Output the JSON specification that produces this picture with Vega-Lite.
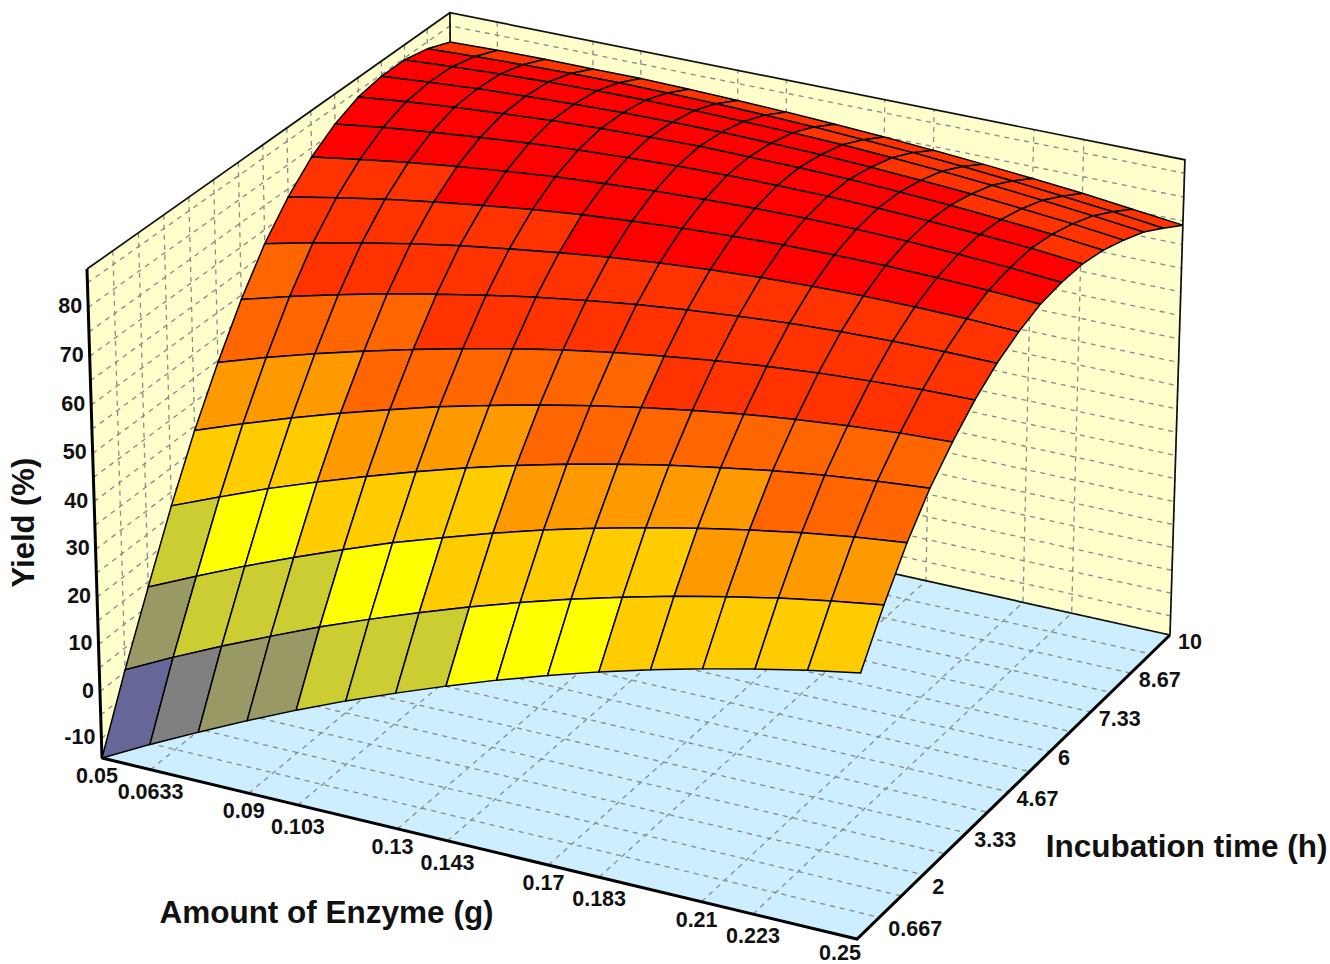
{"$schema":"https://vega.github.io/schema/vega-lite/v6.json","width":1330,"height":964,"padding":0,"autosize":{"type":"none"},"background":"white","config":{"view":{"stroke":null}},
"datasets":{
"frame":[
{"part":"floor","k":0,"enzyme":0.05,"time":0,"yield":-14.2},{"part":"floor","k":1,"enzyme":0.25,"time":0,"yield":-14.2},{"part":"floor","k":2,"enzyme":0.25,"time":10,"yield":-14.2},{"part":"floor","k":3,"enzyme":0.05,"time":10,"yield":-14.2},
{"part":"left","k":0,"enzyme":0.05,"time":0,"yield":-14.2},{"part":"left","k":1,"enzyme":0.05,"time":10,"yield":-14.2},{"part":"left","k":2,"enzyme":0.05,"time":10,"yield":87.8},{"part":"left","k":3,"enzyme":0.05,"time":0,"yield":87.8},
{"part":"back","k":0,"enzyme":0.05,"time":10,"yield":-14.2},{"part":"back","k":1,"enzyme":0.25,"time":10,"yield":-14.2},{"part":"back","k":2,"enzyme":0.25,"time":10,"yield":87.8},{"part":"back","k":3,"enzyme":0.05,"time":10,"yield":87.8},
{"part":"heavyFront","k":0,"enzyme":0.05,"time":0,"yield":-14.2},{"part":"heavyFront","k":1,"enzyme":0.25,"time":0,"yield":-14.2},{"part":"heavyFront","k":2,"enzyme":0.25,"time":10,"yield":-14.2},
{"part":"heavyAxis","k":0,"enzyme":0.05,"time":0,"yield":-14.2},{"part":"heavyAxis","k":1,"enzyme":0.05,"time":0,"yield":87.8},
{"part":"edgeTop","k":0,"enzyme":0.05,"time":0,"yield":87.8},{"part":"edgeTop","k":1,"enzyme":0.05,"time":10,"yield":87.8},{"part":"edgeTop","k":2,"enzyme":0.25,"time":10,"yield":87.8},{"part":"edgeTop","k":3,"enzyme":0.25,"time":10,"yield":-14.2},
{"part":"edgeBack","k":0,"enzyme":0.05,"time":10,"yield":87.8},{"part":"edgeBack","k":1,"enzyme":0.05,"time":10,"yield":-14.2},{"part":"edgeBack","k":2,"enzyme":0.25,"time":10,"yield":-14.2}
],
"axes":[
{"axis":"enzyme","value":0.05,"label":"0.05"},{"axis":"enzyme","value":0.0633,"label":"0.0633"},{"axis":"enzyme","value":0.09,"label":"0.09"},{"axis":"enzyme","value":0.1033,"label":"0.103"},{"axis":"enzyme","value":0.13,"label":"0.13","title":"Amount of Enzyme (g)"},{"axis":"enzyme","value":0.1433,"label":"0.143"},{"axis":"enzyme","value":0.17,"label":"0.17"},{"axis":"enzyme","value":0.1833,"label":"0.183"},{"axis":"enzyme","value":0.21,"label":"0.21"},{"axis":"enzyme","value":0.2233,"label":"0.223"},{"axis":"enzyme","value":0.25,"label":"0.25"},
{"axis":"time","value":0.667,"label":"0.667"},{"axis":"time","value":1.333},{"axis":"time","value":2,"label":"2"},{"axis":"time","value":2.667},{"axis":"time","value":3.333,"label":"3.33"},{"axis":"time","value":4},{"axis":"time","value":4.667,"label":"4.67","title":"Incubation time (h)"},{"axis":"time","value":5.333},{"axis":"time","value":6,"label":"6"},{"axis":"time","value":6.667},{"axis":"time","value":7.333,"label":"7.33"},{"axis":"time","value":8},{"axis":"time","value":8.667,"label":"8.67"},{"axis":"time","value":9.333},{"axis":"time","value":10,"label":"10"},
{"axis":"yield","value":-10,"label":"-10"},{"axis":"yield","value":-5},{"axis":"yield","value":0,"label":"0"},{"axis":"yield","value":5},{"axis":"yield","value":10,"label":"10"},{"axis":"yield","value":15},{"axis":"yield","value":20,"label":"20"},{"axis":"yield","value":25},{"axis":"yield","value":30,"label":"30"},{"axis":"yield","value":35},{"axis":"yield","value":40,"label":"40","title":"Yield (%)"},{"axis":"yield","value":45},{"axis":"yield","value":50,"label":"50"},{"axis":"yield","value":55},{"axis":"yield","value":60,"label":"60"},{"axis":"yield","value":65},{"axis":"yield","value":70,"label":"70"},{"axis":"yield","value":75},{"axis":"yield","value":80,"label":"80"},{"axis":"yield","value":85}
],
"grid":[
{"id":15,"yield":81.5},{"id":115,"yield":81.8},{"id":215,"yield":81.9},{"id":315,"yield":81.9},{"id":415,"yield":81.9},{"id":515,"yield":81.7},{"id":615,"yield":81.4},{"id":715,"yield":81},{"id":815,"yield":80.5},{"id":915,"yield":79.9},{"id":1015,"yield":79.2},{"id":1115,"yield":78.4},{"id":1215,"yield":77.5},{"id":1315,"yield":76.5},{"id":1415,"yield":75.3},{"id":1515,"yield":74.1},
{"id":14,"yield":83.5,"band":8},{"id":114,"yield":83.9,"band":8},{"id":214,"yield":84.2,"band":8},{"id":314,"yield":84.4,"band":8},{"id":414,"yield":84.5,"band":8},{"id":514,"yield":84.4,"band":8},{"id":614,"yield":84.2,"band":8},{"id":714,"yield":83.9,"band":8},{"id":814,"yield":83.5,"band":8},{"id":914,"yield":82.9,"band":8},{"id":1014,"yield":82.3,"band":8},{"id":1114,"yield":81.5,"band":8},{"id":1214,"yield":80.6,"band":8},{"id":1314,"yield":79.5,"band":8},{"id":1414,"yield":78.4,"band":8},{"id":1514,"yield":77.1},
{"id":13,"yield":84.6,"band":9},{"id":113,"yield":85.2,"band":9},{"id":213,"yield":85.7,"band":9},{"id":313,"yield":86.1,"band":9},{"id":413,"yield":86.3,"band":9},{"id":513,"yield":86.4,"band":9},{"id":613,"yield":86.3,"band":9},{"id":713,"yield":86.1,"band":9},{"id":813,"yield":85.8,"band":8},{"id":913,"yield":85.4,"band":8},{"id":1013,"yield":84.8,"band":8},{"id":1113,"yield":84.1,"band":8},{"id":1213,"yield":83.3,"band":8},{"id":1313,"yield":82.3,"band":8},{"id":1413,"yield":81.2,"band":8},{"id":1513,"yield":80},
{"id":12,"yield":84.6,"band":9},{"id":112,"yield":85.4,"band":9},{"id":212,"yield":86.1,"band":9},{"id":312,"yield":86.6,"band":9},{"id":412,"yield":87,"band":9},{"id":512,"yield":87.3,"band":9},{"id":612,"yield":87.4,"band":9},{"id":712,"yield":87.4,"band":9},{"id":812,"yield":87.2,"band":9},{"id":912,"yield":86.9,"band":9},{"id":1012,"yield":86.4,"band":8},{"id":1112,"yield":85.8,"band":8},{"id":1212,"yield":85.1,"band":8},{"id":1312,"yield":84.2,"band":8},{"id":1412,"yield":83.2,"band":8},{"id":1512,"yield":82},
{"id":11,"yield":83.7,"band":9},{"id":111,"yield":84.8,"band":9},{"id":211,"yield":85.7,"band":9},{"id":311,"yield":86.4,"band":9},{"id":411,"yield":87.1,"band":9},{"id":511,"yield":87.5,"band":9},{"id":611,"yield":87.8,"band":9},{"id":711,"yield":88,"band":9},{"id":811,"yield":87.9,"band":9},{"id":911,"yield":87.8,"band":9},{"id":1011,"yield":87.5,"band":9},{"id":1111,"yield":87,"band":9},{"id":1211,"yield":86.4,"band":8},{"id":1311,"yield":85.6,"band":8},{"id":1411,"yield":84.7,"band":8},{"id":1511,"yield":83.6},
{"id":10,"yield":81.5,"band":9},{"id":110,"yield":82.9,"band":9},{"id":210,"yield":84,"band":9},{"id":310,"yield":85,"band":9},{"id":410,"yield":85.9,"band":9},{"id":510,"yield":86.6,"band":9},{"id":610,"yield":87.1,"band":9},{"id":710,"yield":87.5,"band":9},{"id":810,"yield":87.7,"band":9},{"id":910,"yield":87.7,"band":9},{"id":1010,"yield":87.6,"band":9},{"id":1110,"yield":87.3,"band":9},{"id":1210,"yield":86.8,"band":9},{"id":1310,"yield":86.2,"band":9},{"id":1410,"yield":85.5,"band":8},{"id":1510,"yield":84.5},
{"id":9,"yield":78.1,"band":9},{"id":109,"yield":79.7,"band":9},{"id":209,"yield":81.2,"band":9},{"id":309,"yield":82.5,"band":9},{"id":409,"yield":83.6,"band":9},{"id":509,"yield":84.6,"band":9},{"id":609,"yield":85.3,"band":9},{"id":709,"yield":85.9,"band":9},{"id":809,"yield":86.3,"band":9},{"id":909,"yield":86.6,"band":9},{"id":1009,"yield":86.7,"band":9},{"id":1109,"yield":86.6,"band":9},{"id":1209,"yield":86.3,"band":9},{"id":1309,"yield":85.8,"band":9},{"id":1409,"yield":85.2,"band":9},{"id":1509,"yield":84.4},
{"id":8,"yield":73.3,"band":8},{"id":108,"yield":75.3,"band":8},{"id":208,"yield":77.1,"band":8},{"id":308,"yield":78.7,"band":9},{"id":408,"yield":80.1,"band":9},{"id":508,"yield":81.4,"band":9},{"id":608,"yield":82.5,"band":9},{"id":708,"yield":83.3,"band":9},{"id":808,"yield":84,"band":9},{"id":908,"yield":84.5,"band":9},{"id":1008,"yield":84.9,"band":9},{"id":1108,"yield":85,"band":9},{"id":1208,"yield":85,"band":9},{"id":1308,"yield":84.7,"band":9},{"id":1408,"yield":84.3,"band":9},{"id":1508,"yield":83.7},
{"id":7,"yield":67.1,"band":8},{"id":107,"yield":69.5,"band":8},{"id":207,"yield":71.6,"band":8},{"id":307,"yield":73.6,"band":8},{"id":407,"yield":75.4,"band":8},{"id":507,"yield":76.9,"band":8},{"id":607,"yield":78.3,"band":9},{"id":707,"yield":79.5,"band":9},{"id":807,"yield":80.5,"band":9},{"id":907,"yield":81.3,"band":9},{"id":1007,"yield":81.9,"band":9},{"id":1107,"yield":82.3,"band":9},{"id":1207,"yield":82.5,"band":9},{"id":1307,"yield":82.5,"band":9},{"id":1407,"yield":82.3,"band":8},{"id":1507,"yield":81.9},
{"id":6,"yield":59.1,"band":7},{"id":106,"yield":61.9,"band":8},{"id":206,"yield":64.5,"band":8},{"id":306,"yield":66.9,"band":8},{"id":406,"yield":69,"band":8},{"id":506,"yield":71,"band":8},{"id":606,"yield":72.8,"band":8},{"id":706,"yield":74.3,"band":8},{"id":806,"yield":75.7,"band":8},{"id":906,"yield":76.8,"band":8},{"id":1006,"yield":77.7,"band":8},{"id":1106,"yield":78.5,"band":8},{"id":1206,"yield":79,"band":8},{"id":1306,"yield":79.3,"band":8},{"id":1406,"yield":79.4,"band":8},{"id":1506,"yield":79.3},
{"id":5,"yield":49.6,"band":7},{"id":105,"yield":52.9,"band":7},{"id":205,"yield":55.9,"band":7},{"id":305,"yield":58.7,"band":7},{"id":405,"yield":61.3,"band":8},{"id":505,"yield":63.7,"band":8},{"id":605,"yield":65.9,"band":8},{"id":705,"yield":67.9,"band":8},{"id":805,"yield":69.6,"band":8},{"id":905,"yield":71.1,"band":8},{"id":1005,"yield":72.4,"band":8},{"id":1105,"yield":73.5,"band":8},{"id":1205,"yield":74.4,"band":8},{"id":1305,"yield":75,"band":8},{"id":1405,"yield":75.5,"band":8},{"id":1505,"yield":75.7},
{"id":4,"yield":39.1,"band":6},{"id":104,"yield":42.8,"band":6},{"id":204,"yield":46.3,"band":6},{"id":304,"yield":49.6,"band":7},{"id":404,"yield":52.6,"band":7},{"id":504,"yield":55.5,"band":7},{"id":604,"yield":58,"band":7},{"id":704,"yield":60.4,"band":7},{"id":804,"yield":62.5,"band":7},{"id":904,"yield":64.4,"band":8},{"id":1004,"yield":66.1,"band":8},{"id":1104,"yield":67.6,"band":8},{"id":1204,"yield":68.8,"band":8},{"id":1304,"yield":69.8,"band":8},{"id":1404,"yield":70.6,"band":8},{"id":1504,"yield":71.1},
{"id":3,"yield":27.1,"band":5},{"id":103,"yield":31.3,"band":5},{"id":203,"yield":35.4,"band":5},{"id":303,"yield":39.1,"band":6},{"id":403,"yield":42.6,"band":6},{"id":503,"yield":45.9,"band":6},{"id":603,"yield":49,"band":6},{"id":703,"yield":51.8,"band":7},{"id":803,"yield":54.4,"band":7},{"id":903,"yield":56.7,"band":7},{"id":1003,"yield":58.8,"band":7},{"id":1103,"yield":60.6,"band":7},{"id":1203,"yield":62.3,"band":7},{"id":1303,"yield":63.7,"band":7},{"id":1403,"yield":64.8,"band":7},{"id":1503,"yield":65.7},
{"id":2,"yield":13.9,"band":3},{"id":102,"yield":18.6,"band":4},{"id":202,"yield":23.1,"band":4},{"id":302,"yield":27.3,"band":5},{"id":402,"yield":31.3,"band":5},{"id":502,"yield":35.1,"band":5},{"id":602,"yield":38.5,"band":5},{"id":702,"yield":41.8,"band":6},{"id":802,"yield":44.8,"band":6},{"id":902,"yield":47.5,"band":6},{"id":1002,"yield":50,"band":6},{"id":1102,"yield":52.2,"band":6},{"id":1202,"yield":54.2,"band":7},{"id":1302,"yield":56,"band":7},{"id":1402,"yield":57.5,"band":7},{"id":1502,"yield":58.7},
{"id":1,"yield":0.4,"band":2},{"id":101,"yield":5.5,"band":3},{"id":201,"yield":10.3,"band":3},{"id":301,"yield":14.8,"band":3},{"id":401,"yield":19.2,"band":4},{"id":501,"yield":23.2,"band":4},{"id":601,"yield":27,"band":5},{"id":701,"yield":30.6,"band":5},{"id":801,"yield":33.9,"band":5},{"id":901,"yield":37,"band":5},{"id":1001,"yield":39.8,"band":5},{"id":1101,"yield":42.4,"band":6},{"id":1201,"yield":44.7,"band":6},{"id":1301,"yield":46.8,"band":6},{"id":1401,"yield":48.6,"band":6},{"id":1501,"yield":50.2},
{"id":0,"yield":-14.2,"band":0},{"id":100,"yield":-8.8,"band":1},{"id":200,"yield":-3.7,"band":2},{"id":300,"yield":1.2,"band":2},{"id":400,"yield":5.9,"band":3},{"id":500,"yield":10.3,"band":3},{"id":600,"yield":14.4,"band":3},{"id":700,"yield":18.3,"band":4},{"id":800,"yield":22,"band":4},{"id":900,"yield":25.4,"band":4},{"id":1000,"yield":28.6,"band":5},{"id":1100,"yield":31.5,"band":5},{"id":1200,"yield":34.1,"band":5},{"id":1300,"yield":36.5,"band":5},{"id":1400,"yield":38.7,"band":5},{"id":1500,"yield":40.6}
]},
"encoding":{"x":{"field":"px","type":"quantitative","scale":{"domain":[0,1330],"nice":false,"zero":false},"axis":null},"y":{"field":"py","type":"quantitative","scale":{"domain":[0,964],"reverse":true,"nice":false,"zero":false},"axis":null}},
"layer":[
{"data":{"name":"frame"},
"transform":[{"calculate":"(datum.enzyme-0.05)/0.2","as":"u"},{"calculate":"datum.time/10","as":"v"},{"calculate":"(datum.yield+14.2)/102","as":"w"},{"calculate":"1-0.03539*datum.u+0.07069*datum.v-0.02772*datum.w","as":"q"},{"calculate":"(102+724.67*datum.u+384.63*datum.v-17.41*datum.w)/datum.q","as":"px"},{"calculate":"(758+147.77*datum.u-248.35*datum.v-496.4*datum.w)/datum.q","as":"py"}],
"layer":[
{"transform":[{"filter":"datum.part=='left'||datum.part=='back'"}],"mark":{"type":"line","interpolate":"linear-closed","fill":"#ffffcc","stroke":"transparent"},"encoding":{"detail":{"field":"part"},"order":{"field":"k"}}},
{"transform":[{"filter":"datum.part=='floor'"}],"mark":{"type":"line","interpolate":"linear-closed","fill":"#cceeff","stroke":"transparent"},"encoding":{"detail":{"field":"part"},"order":{"field":"k"}}}
]},
{"data":{"name":"axes"},
"transform":[{"calculate":"[0,1,2]","as":"k"},{"flatten":["k"]},
{"calculate":"datum.axis=='enzyme'?datum.value:(datum.k==2?0.25:0.05)","as":"enzyme"},
{"calculate":"datum.axis=='time'?datum.value:(datum.k==0?0:10)","as":"time"},
{"calculate":"datum.axis=='yield'?datum.value:(datum.axis=='enzyme'?(datum.k==2?87.8:-14.2):(datum.k==0?87.8:-14.2))","as":"yield"},
{"calculate":"(datum.enzyme-0.05)/0.2","as":"u"},{"calculate":"datum.time/10","as":"v"},{"calculate":"(datum.yield+14.2)/102","as":"w"},{"calculate":"1-0.03539*datum.u+0.07069*datum.v-0.02772*datum.w","as":"q"},{"calculate":"(102+724.67*datum.u+384.63*datum.v-17.41*datum.w)/datum.q","as":"px"},{"calculate":"(758+147.77*datum.u-248.35*datum.v-496.4*datum.w)/datum.q","as":"py"}],
"layer":[
{"mark":{"type":"line","stroke":"#8a8a8a","strokeWidth":1.3,"strokeDash":[5,5]},"encoding":{"detail":[{"field":"axis"},{"field":"value"}],"order":{"field":"k"}}},
{"transform":[{"filter":"datum.label&&datum.axis=='enzyme'&&datum.k==0&&datum.label.length==4&&datum.value<0.25"}],"mark":{"type":"text","font":"Liberation Sans","fontWeight":"bold","fontSize":21.5,"fill":"#111","dx":-5,"dy":19},"encoding":{"text":{"field":"label"}}},
{"transform":[{"filter":"datum.label&&datum.axis=='enzyme'&&datum.k==0&&datum.label.length>4"}],"mark":{"type":"text","font":"Liberation Sans","fontWeight":"bold","fontSize":21.5,"fill":"#111","dx":0,"dy":23},"encoding":{"text":{"field":"label"}}},
{"transform":[{"filter":"datum.label&&datum.axis=='enzyme'&&datum.k==0&&datum.value==0.25"}],"mark":{"type":"text","font":"Liberation Sans","fontWeight":"bold","fontSize":21.5,"fill":"#111","dx":-17,"dy":15},"encoding":{"text":{"field":"label"}}},
{"transform":[{"filter":"datum.label&&datum.axis=='time'&&datum.k==2&&datum.value>2.5"}],"mark":{"type":"text","font":"Liberation Sans","fontWeight":"bold","fontSize":21.5,"fill":"#111","align":"left","dx":8,"dy":8},"encoding":{"text":{"field":"label"}}},
{"transform":[{"filter":"datum.label&&datum.axis=='time'&&datum.k==2&&datum.value<2.5"}],"mark":{"type":"text","font":"Liberation Sans","fontWeight":"bold","fontSize":21.5,"fill":"#111","align":"left","dx":9,"dy":13},"encoding":{"text":{"field":"label"}}},
{"transform":[{"filter":"datum.label&&datum.axis=='yield'&&datum.k==0"}],"mark":{"type":"text","font":"Liberation Sans","fontWeight":"bold","fontSize":21.5,"fill":"#111","align":"right","dx":-6},"encoding":{"text":{"field":"label"}}},
{"transform":[{"filter":"datum.title&&datum.axis=='enzyme'&&datum.k==0"}],"mark":{"type":"text","font":"Liberation Sans","fontWeight":"bold","fontSize":31.5,"fill":"#111","dx":-71,"dy":85},"encoding":{"text":{"field":"title"}}},
{"transform":[{"filter":"datum.title&&datum.axis=='time'&&datum.k==2"}],"mark":{"type":"text","font":"Liberation Sans","fontWeight":"bold","fontSize":31.5,"fill":"#111","dx":178,"dy":56},"encoding":{"text":{"field":"title"}}},
{"transform":[{"filter":"datum.title&&datum.axis=='yield'&&datum.k==0"}],"mark":{"type":"text","font":"Liberation Sans","fontWeight":"bold","fontSize":31,"fill":"#111","angle":270,"dx":-21,"dy":-69},"encoding":{"text":{"field":"title"}}}
]},
{"data":{"name":"frame"},
"transform":[{"calculate":"(datum.enzyme-0.05)/0.2","as":"u"},{"calculate":"datum.time/10","as":"v"},{"calculate":"(datum.yield+14.2)/102","as":"w"},{"calculate":"1-0.03539*datum.u+0.07069*datum.v-0.02772*datum.w","as":"q"},{"calculate":"(102+724.67*datum.u+384.63*datum.v-17.41*datum.w)/datum.q","as":"px"},{"calculate":"(758+147.77*datum.u-248.35*datum.v-496.4*datum.w)/datum.q","as":"py"}],
"layer":[
{"transform":[{"filter":"datum.part=='edgeTop'||datum.part=='edgeBack'"}],"mark":{"type":"line","stroke":"#111","strokeWidth":1.7},"encoding":{"detail":{"field":"part"},"order":{"field":"k"}}},
{"transform":[{"filter":"datum.part=='heavyFront'||datum.part=='heavyAxis'"}],"mark":{"type":"line","stroke":"#000","strokeWidth":3},"encoding":{"detail":{"field":"part"},"order":{"field":"k"}}}
]},
{"data":{"name":"grid"},
"transform":[{"calculate":"floor(datum.id/100)","as":"i"},{"calculate":"datum.id-100*datum.i","as":"j"},{"filter":"datum.i<15&&datum.j<15"},
{"calculate":"[0,1,2,3]","as":"k"},{"flatten":["k"]},
{"calculate":"datum.i+((datum.k==1||datum.k==2)?1:0)","as":"ci"},{"calculate":"datum.j+(datum.k>=2?1:0)","as":"cj"},{"calculate":"100*datum.ci+datum.cj","as":"corner"},
{"lookup":"corner","from":{"data":{"name":"grid"},"key":"id","fields":["yield"]},"as":["cornerYield"]},
{"calculate":"datum.ci/15","as":"u"},{"calculate":"datum.cj/15","as":"v"},{"calculate":"(datum.cornerYield+14.2)/102","as":"w"},{"calculate":"1-0.03539*datum.u+0.07069*datum.v-0.02772*datum.w","as":"q"},{"calculate":"(102+724.67*datum.u+384.63*datum.v-17.41*datum.w)/datum.q","as":"px"},{"calculate":"(758+147.77*datum.u-248.35*datum.v-496.4*datum.w)/datum.q","as":"py"}],
"mark":{"type":"line","interpolate":"linear-closed","stroke":"#000","strokeWidth":1.5},
"encoding":{"detail":{"field":"id"},"order":{"field":"k"},"fill":{"field":"band","type":"ordinal","legend":null,"scale":{"domain":[0,1,2,3,4,5,6,7,8,9],"range":["#666699","#808080","#999966","#cccc33","#ffff00","#ffcc00","#ff9900","#ff6600","#ff3300","#ff0000"]}}}}
]}
